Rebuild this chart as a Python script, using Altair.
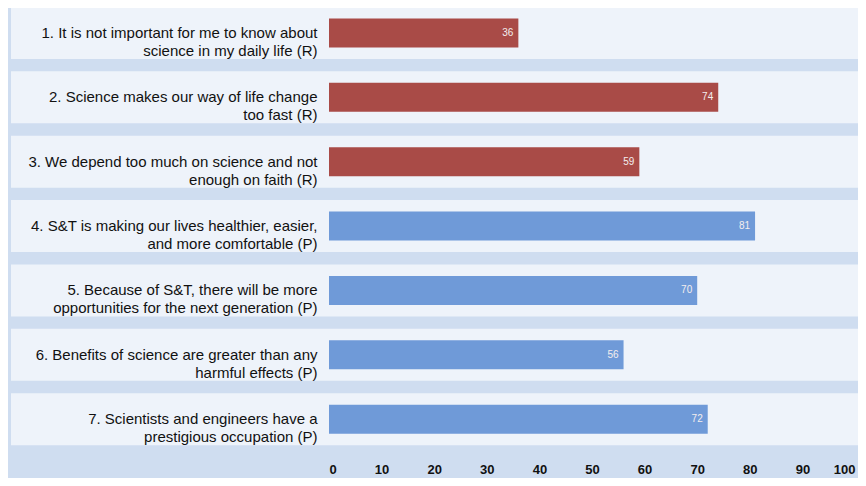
import altair as alt
import pandas as pd

items = [
    "1. It is not important for me to know about|science in my daily life (R)",
    "2. Science makes our way of life change|too fast (R)",
    "3. We depend too much on science and not|enough on faith (R)",
    "4. S&T is making our lives healthier, easier,|and more comfortable (P)",
    "5. Because of S&T, there will be more|opportunities for the next generation (P)",
    "6. Benefits of science are greater than any|harmful effects (P)",
    "7. Scientists and engineers have a|prestigious occupation (P)",
]
values = [36, 74, 59, 81, 70, 56, 72]
kinds = ["R", "R", "R", "P", "P", "P", "P"]
ticks = [0, 10, 20, 30, 40, 50, 60, 70, 80, 90, 100]

df = pd.DataFrame({"item": items, "value": values, "kind": kinds})

FONT = "Liberation Sans"

y = alt.Y("item:N", sort=items, title=None,
          scale=alt.Scale(paddingInner=0.55, paddingOuter=0.27, align=0.3),
          axis=alt.Axis(labelExpr="split(datum.label, '|')", labelFont=FONT,
                        labelFontSize=15, labelColor="#111", labelLineHeight=18,
                        labelPadding=12, ticks=False, domain=False, labelLimit=330,
                        zindex=2))

bands = alt.Chart(df).mark_bar(color="#eef3fa", size=52).encode(
    y=y,
    x=alt.value(-318), x2=alt.value(532),
)

bars = alt.Chart(df).mark_bar(size=29).encode(
    y=y,
    x=alt.X("value:Q", title=None,
            scale=alt.Scale(domain=[0, 100], nice=False),
            axis=alt.Axis(values=ticks, grid=False, ticks=False, domain=False,
                          labelFont=FONT, labelFontSize=13, labelFontWeight="bold",
                          labelColor="#111", labelPadding=5, zindex=2)),
    color=alt.Color("kind:N", scale=alt.Scale(domain=["R", "P"], range=["#a94b47", "#6f9ad8"]),
                    legend=None),
)

labels = alt.Chart(df).mark_text(align="right", baseline="middle", dx=-5, color="#f4eeee",
                                 fontSize=10, font=FONT).encode(
    y=y,
    x=alt.X("value:Q"),
    text=alt.Text("value:Q"),
)

chart = (bands + bars + labels).properties(
    width=526, height=450,
    background="#cfddf0",
    padding={"left": 321, "top": 0, "right": 3, "bottom": 20},
    autosize=alt.AutoSizeParams(type="none"),
).configure_view(stroke=None)

chart.save("out.html", embed_options={"renderer": "svg", "actions": False})
